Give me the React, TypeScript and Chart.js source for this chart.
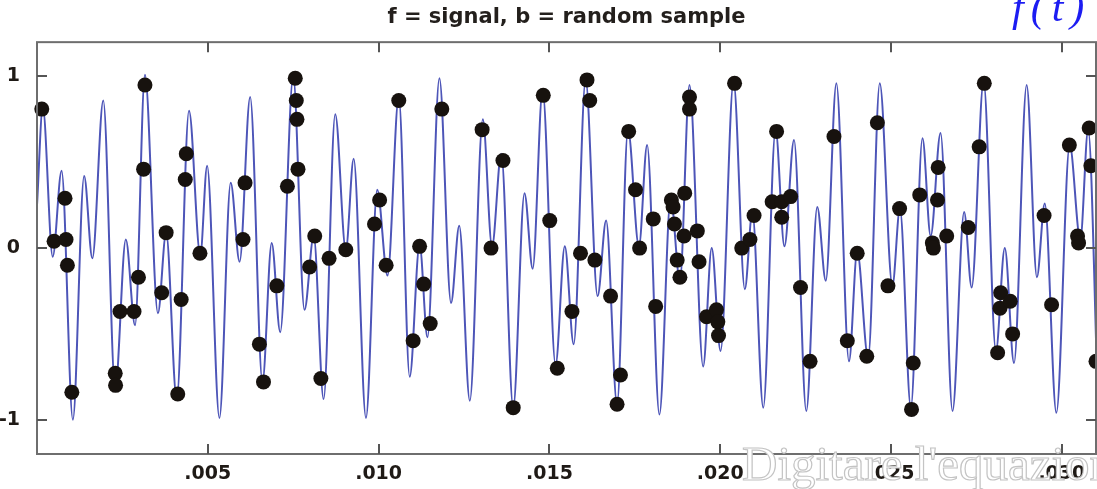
import { useEffect, useRef } from 'react';
import { Chart, registerables } from 'chart.js';

Chart.register(...registerables);

const TITLE = 'f = signal, b = random sample';
const WATERMARK = "Digitare l'equazione";
const CORNER_LABEL = 'f(t)';

// signal f: turning points (time in seconds)
const signalTime = [
  0, 0.00017, 0.00046, 0.00072, 0.00105, 0.00138, 0.00162, 0.00194, 0.00229, 0.0026,
  0.00287, 0.00316, 0.00354, 0.00378, 0.00409, 0.00445, 0.00478, 0.00498, 0.00534, 0.00567,
  0.00593, 0.00624, 0.0066, 0.00687, 0.00712, 0.0075, 0.00783, 0.0081, 0.00839, 0.00873,
  0.00904, 0.00927, 0.00963, 0.00996, 0.01026, 0.01059, 0.01091, 0.0112, 0.01143, 0.01178,
  0.01212, 0.01236, 0.01267, 0.01305, 0.01332, 0.01359, 0.01394, 0.01427, 0.01451, 0.0148,
  0.01518, 0.01545, 0.01571, 0.01606, 0.01641, 0.01666, 0.01698, 0.0173, 0.01762, 0.01786,
  0.01822, 0.01855, 0.01882, 0.0191, 0.0195, 0.01975, 0.02001, 0.02039, 0.02072, 0.02094,
  0.02126, 0.02162, 0.02188, 0.02216, 0.02252, 0.02284, 0.02309, 0.0234, 0.02377, 0.02401,
  0.02433, 0.02467, 0.02504, 0.02526, 0.02558, 0.02592, 0.02616, 0.02645, 0.0268, 0.02714,
  0.02736, 0.02771, 0.02807, 0.02833, 0.0286, 0.02897, 0.02927, 0.0295, 0.02984, 0.03023,
  0.03054, 0.03077, 0.03106,
];
const signalValue = [
  0.25, 0.82, -0.05, 0.45, -1.0, 0.42, -0.06, 0.86, -0.82, 0.05,
  -0.45, 1.01, -0.38, 0.09, -0.88, 0.8, -0.04, 0.48, -0.99, 0.38,
  -0.08, 0.88, -0.78, 0.03, -0.49, 1.0, -0.36, 0.07, -0.88, 0.78,
  -0.01, 0.52, -0.99, 0.34, -0.16, 0.88, -0.75, 0.02, -0.52, 0.99,
  -0.32, 0.13, -0.89, 0.75, 0.01, 0.55, -0.93, 0.32, -0.12, 0.92,
  -0.68, 0.01, -0.56, 0.98, -0.28, 0.16, -0.91, 0.69, 0.01, 0.6,
  -0.97, 0.29, -0.19, 0.95, -0.69, 0.0, -0.6, 0.97, -0.24, 0.21,
  -0.93, 0.69, 0.01, 0.63, -0.95, 0.24, -0.19, 0.96, -0.66, -0.02,
  -0.64, 0.96, -0.22, 0.23, -0.93, 0.64, 0.07, 0.67, -0.95, 0.21,
  -0.23, 0.97, -0.6, 0.0, -0.67, 0.95, -0.17, 0.26, -0.96, 0.6,
  0.05, 0.69, -0.92,
];

// b: random samples (time in seconds)
const sampleTime = [
  0.00014, 0.0005, 0.00082, 0.00085, 0.00089, 0.00102, 0.00229, 0.0023, 0.00243, 0.00284,
  0.00297, 0.00312, 0.00316, 0.00365, 0.00378, 0.00412, 0.00422, 0.00434, 0.00437, 0.00477,
  0.00603, 0.00609, 0.00651, 0.00663, 0.00702, 0.00733, 0.00756, 0.00759, 0.00761, 0.00764,
  0.00798, 0.00813, 0.00831, 0.00855, 0.00904, 0.00988, 0.01003, 0.01022, 0.01059, 0.01101,
  0.0112, 0.01132, 0.01151, 0.01185, 0.01303, 0.01329, 0.01364, 0.01394, 0.01482, 0.01501,
  0.01523, 0.01566, 0.01591, 0.0161, 0.01618, 0.01633, 0.01679, 0.01698, 0.01708, 0.01732,
  0.01752, 0.01764, 0.01804, 0.01811, 0.01857, 0.01862, 0.01866, 0.01874, 0.01882, 0.01894,
  0.01896, 0.0191, 0.0191, 0.01933, 0.01938, 0.0196, 0.01989, 0.01993, 0.01995, 0.02042,
  0.02063, 0.02087, 0.02099, 0.02152, 0.02165, 0.0218, 0.0218, 0.02206, 0.02235, 0.02263,
  0.02333, 0.02372, 0.02401, 0.02429, 0.0246, 0.02491, 0.02525, 0.0256, 0.02565, 0.02584,
  0.02621, 0.02624, 0.02636, 0.02638, 0.02663, 0.02726, 0.02758, 0.02773, 0.02812, 0.02819,
  0.02821, 0.02849, 0.02856, 0.02948, 0.0297, 0.03022, 0.03046, 0.03049, 0.0308, 0.03085,
  0.031, 0.03102,
];
const sampleValue = [
  0.81, 0.04, 0.29, 0.05, -0.1, -0.84, -0.73, -0.8, -0.37, -0.37,
  -0.17, 0.46, 0.95, -0.26, 0.09, -0.85, -0.3, 0.4, 0.55, -0.03,
  0.05, 0.38, -0.56, -0.78, -0.22, 0.36, 0.99, 0.86, 0.75, 0.46,
  -0.11, 0.07, -0.76, -0.06, -0.01, 0.14, 0.28, -0.1, 0.86, -0.54,
  0.01, -0.21, -0.44, 0.81, 0.69, 0.0, 0.51, -0.93, 0.89, 0.16,
  -0.7, -0.37, -0.03, 0.98, 0.86, -0.07, -0.28, -0.91, -0.74, 0.68,
  0.34, 0.0, 0.17, -0.34, 0.28, 0.24, 0.14, -0.07, -0.17, 0.07,
  0.32, 0.88, 0.81, 0.1, -0.08, -0.4, -0.36, -0.43, -0.51, 0.96,
  0.0, 0.05, 0.19, 0.27, 0.68, 0.27, 0.18, 0.3, -0.23, -0.66,
  0.65, -0.54, -0.03, -0.63, 0.73, -0.22, 0.23, -0.94, -0.67, 0.31,
  0.03, 0.0, 0.28, 0.47, 0.07, 0.12, 0.59, 0.96, -0.61, -0.35,
  -0.26, -0.31, -0.5, 0.19, -0.33, 0.6, 0.07, 0.03, 0.7, 0.48,
  -0.66, -0.86,
];

const xTicks = [0.005, 0.01, 0.015, 0.02, 0.025, 0.03];
const yTicks = [-1, 0, 1];
const xRange = [0, 0.031];
const yRange = [-1.2, 1.2];

const LABEL_FONT = { family: '"DejaVu Sans", sans-serif', size: 19, weight: 'bold' as const };

const framePlugin = {
  id: 'frameAndInwardTicks',
  afterDraw(chart: any) {
    const { ctx, chartArea } = chart;
    const { left, right, top, bottom } = chartArea;
    const xs = chart.scales.x;
    const ys = chart.scales.y;
    ctx.save();
    // frame
    ctx.strokeStyle = '#6e6e6e';
    ctx.lineWidth = 2;
    ctx.strokeRect(left, top, right - left, bottom - top);
    // inward ticks
    ctx.strokeStyle = '#555555';
    ctx.lineWidth = 2;
    const len = 10;
    ctx.beginPath();
    xs.ticks.forEach((t: any) => {
      const px = Math.round(xs.getPixelForValue(t.value));
      ctx.moveTo(px, top);
      ctx.lineTo(px, top + len);
      ctx.moveTo(px, bottom);
      ctx.lineTo(px, bottom - len);
    });
    ys.ticks.forEach((t: any) => {
      const py = Math.round(ys.getPixelForValue(t.value));
      ctx.moveTo(left, py);
      ctx.lineTo(left + len, py);
      ctx.moveTo(right, py);
      ctx.lineTo(right - len, py);
    });
    ctx.stroke();

    // corner equation label
    ctx.fillStyle = '#1c1cf2';
    ctx.font = 'italic 42px "Liberation Serif", serif';
    ctx.textAlign = 'left';
    ctx.textBaseline = 'alphabetic';
    try { (ctx as any).letterSpacing = '7px'; } catch (e) { /* ignore */ }
    ctx.fillText(CORNER_LABEL, 1012, 21);
    try { (ctx as any).letterSpacing = '0px'; } catch (e) { /* ignore */ }

    // watermark overlay
    ctx.font = '49px "Liberation Serif", serif';
    ctx.fillStyle = '#ffffff';
    ctx.strokeStyle = '#c4c4c4';
    ctx.lineWidth = 1.2;
    ctx.fillText(WATERMARK, 742, 480);
    ctx.strokeText(WATERMARK, 742, 480);
    ctx.restore();
  },
};

export default function App() {
  const ref = useRef<HTMLCanvasElement>(null);
  useEffect(() => {
    if (!ref.current) return;
    const chart = new Chart(ref.current, {
      type: 'line',
      data: {
        datasets: [
          {
            type: 'scatter',
            label: 'b',
            data: sampleTime.map((t, i) => ({ x: t, y: sampleValue[i] })),
            pointRadius: 7.5,
            pointHoverRadius: 7.5,
            pointBackgroundColor: '#17120e',
            pointBorderWidth: 0,
            clip: false as any,
            order: 0,
          } as any,
          {
            type: 'line',
            label: 'f',
            data: signalTime.map((t, i) => ({ x: t, y: signalValue[i] })),
            borderColor: '#4d55b8',
            borderWidth: 2,
            pointRadius: 0,
            cubicInterpolationMode: 'monotone',
            fill: false,
            order: 1,
          } as any,
        ],
      },
      options: {
        responsive: false,
        animation: false,
        events: [],
        layout: { autoPadding: false, padding: { left: 0, right: 1, top: 0, bottom: 0 } },
        plugins: {
          legend: { display: false },
          tooltip: { enabled: false },
          title: {
            display: true,
            text: TITLE,
            fullSize: false,
            color: '#231f1c',
            font: { family: '"DejaVu Sans", sans-serif', size: 21, weight: 'bold', lineHeight: 1.15 },
            padding: { top: 5, bottom: 13 },
          },
        },
        scales: {
          x: {
            type: 'linear',
            min: xRange[0],
            max: xRange[1],
            grid: { display: false },
            border: { display: false },
            afterBuildTicks: (s: any) => {
              s.ticks = xTicks.map((v) => ({ value: v }));
            },
            afterFit: (s: any) => {
              s.height = 35;
              s.paddingLeft = 0;
              s.paddingRight = 0;
            },
            ticks: {
              autoSkip: false,
              maxRotation: 0,
              padding: 1,
              color: '#1f1a16',
              font: LABEL_FONT,
              callback: (v: any) => '.' + Number(v).toFixed(3).slice(2),
            },
          },
          y: {
            type: 'linear',
            min: yRange[0],
            max: yRange[1],
            grid: { display: false },
            border: { display: false },
            afterBuildTicks: (s: any) => {
              s.ticks = yTicks.map((v) => ({ value: v }));
            },
            afterFit: (s: any) => {
              s.width = 37;
              s.paddingTop = 0;
              s.paddingBottom = 0;
            },
            ticks: {
              autoSkip: false,
              padding: 9,
              color: '#1f1a16',
              font: LABEL_FONT,
              callback: (v: any) => String(v),
            },
          },
        },
      },
      plugins: [framePlugin],
    });
    return () => chart.destroy();
  }, []);
  return (
    <div style={{ position: 'absolute', left: 0, top: 0, width: 1097, height: 489, background: '#ffffff' }}>
      <canvas ref={ref} width={1097} height={489} style={{ display: 'block' }} />
    </div>
  );
}
